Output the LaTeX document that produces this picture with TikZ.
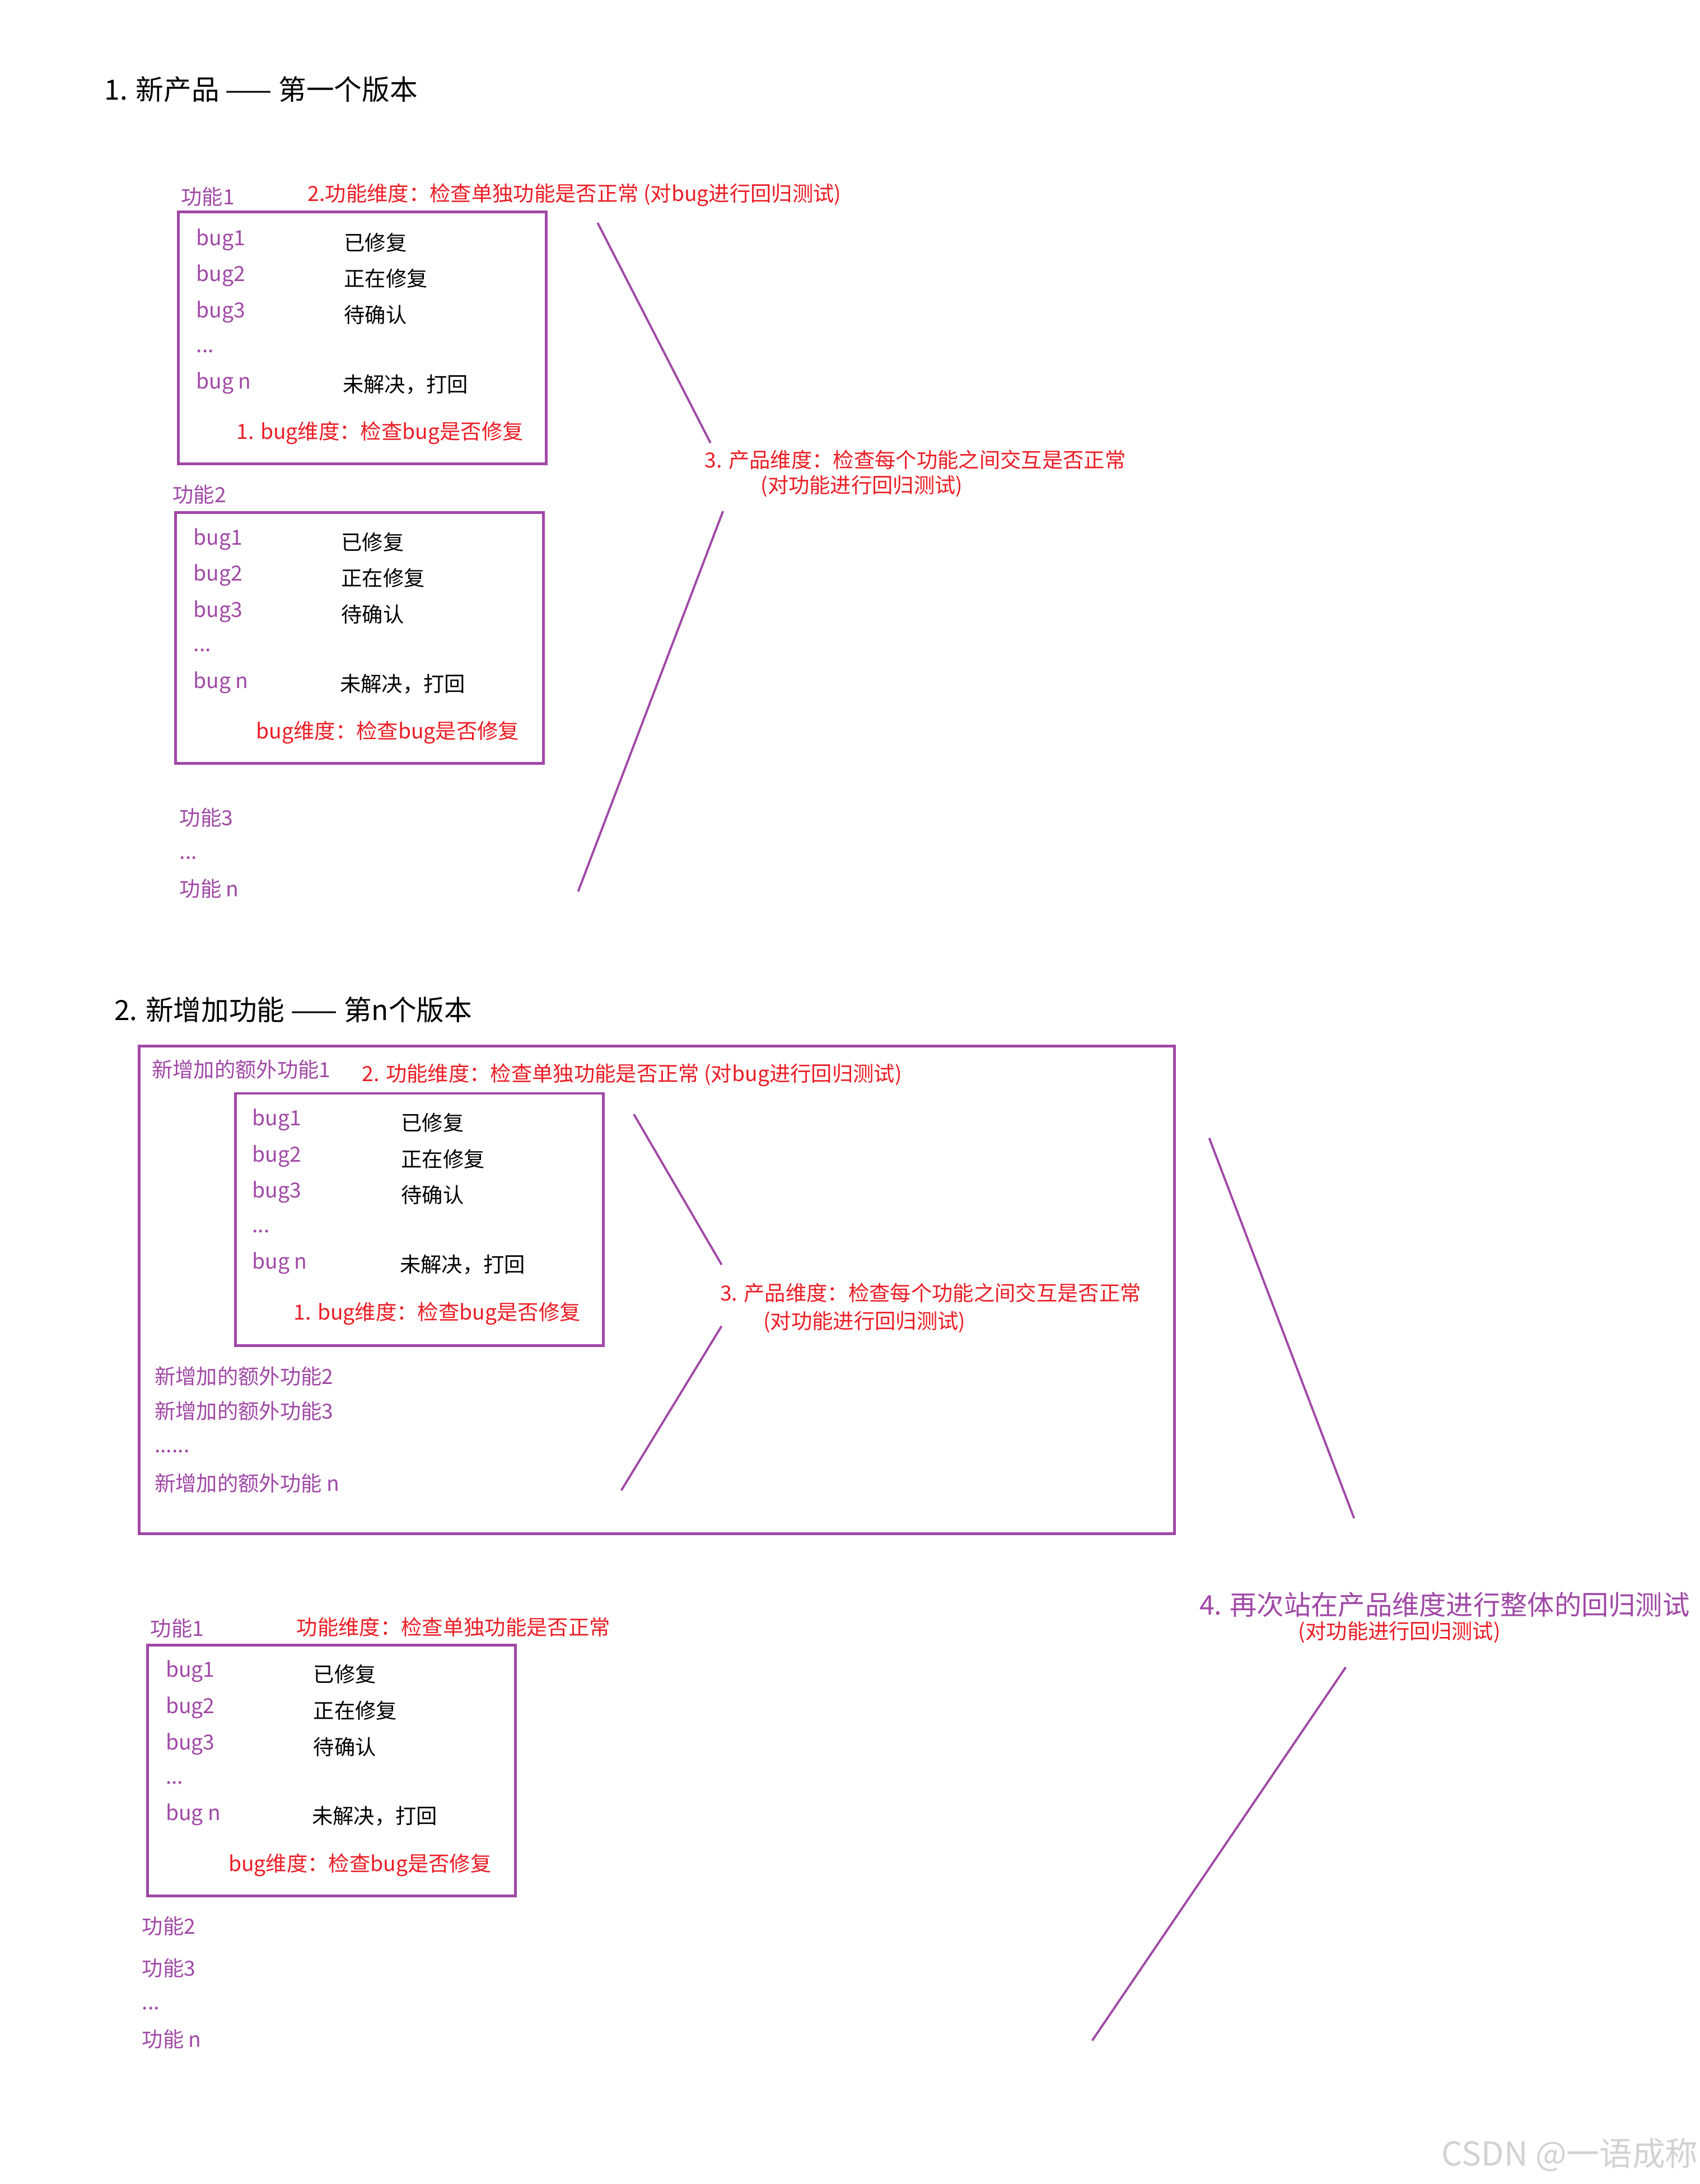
\documentclass[tikz,border=0pt]{standalone}
\usepackage{fontspec}
\setmainfont{Noto Sans CJK SC}
\definecolor{pur}{RGB}{160,72,166}
\definecolor{redt}{RGB}{236,28,36}
\definecolor{wmk}{RGB}{210,210,210}
\newcommand\mybugs[4]{%
  \node[pt] (#1b1) at (#2,#4) {bug1};
  \node[bt] (#1s1) at (#3,#4+2) {已修复};
  \node[pt] (#1b2) at (#2,#4+26) {bug2};
  \node[bt] (#1s2) at (#3,#4+28) {正在修复};
  \node[pt] (#1b3) at (#2,#4+52) {bug3};
  \node[bt] (#1s3) at (#3,#4+54) {待确认};
  \node[pt] (#1bd) at (#2,#4+80) {...};
  \node[pt] (#1bn) at (#2,#4+103) {bug n};
  \node[bt] (#1sn) at (#3-1,#4+104) {未解决，打回};
}
\begin{document}
\begin{tikzpicture}[x=0.025cm,y=-0.025cm,
  every node/.style={inner sep=0pt,outer sep=0pt,anchor=west},
  txt/.style={font=\fontsize{10.67}{12}\selectfont},
  pt/.style={txt,text=pur},
  rt/.style={txt,text=redt},
  bt/.style={txt,text=black},
  ttl/.style={font=\fontsize{14.2}{16}\selectfont,text=black},
  big/.style={font=\fontsize{13.8}{16}\selectfont,text=pur},
  box/.style={draw=pur,line width=1.4pt},
  conn/.style={draw=pur,line width=1.1pt}]
\useasboundingbox (0,0) rectangle (1220,1568);

% ---------- Section 1 ----------
\node[ttl] (t1) at (75,64) {1. 新产品 —— 第一个版本};
\node[pt] (f1) at (130,141) {功能1};
\node[rt] (d2a) at (221,140) {2.功能维度：检查单独功能是否正常 (对bug进行回归测试)};
\draw[box] (128,152) rectangle (392,333);
\mybugs{a}{141}{247}{172}
\node[rt] (d1a) at (170,311) {1. bug维度：检查bug是否修复};

\node[rt] (d3a) at (506,330) {3. 产品维度：检查每个功能之间交互是否正常};
\node[rt] (d3a2) at (546,349) {(对功能进行回归测试)};
\coordinate (l1s) at (429,160);
\coordinate (l1e) at (510,318);
\coordinate (l2s) at (519,367);
\coordinate (l2e) at (415,640);
\draw[conn] (l1s) -- (l1e);
\draw[conn] (l2s) -- (l2e);

\node[pt] (f2) at (124,355) {功能2};
\draw[box] (126,368) rectangle (390,548);
\mybugs{b}{139}{245}{387}
\node[rt] (d1b) at (184,526) {bug维度：检查bug是否修复};

\node[pt] (f3) at (129,587) {功能3};
\node[pt] (fd) at (129,616) {...};
\node[pt] (fn) at (129,638) {功能 n};

% ---------- Section 2 ----------
\node[ttl] (t2) at (82,725) {2. 新增加功能 —— 第n个版本};
\draw[box] (100,751) rectangle (843,1101);
\node[pt] (e1) at (109,768) {新增加的额外功能1};
\node[rt] (d2c) at (260,772) {2. 功能维度：检查单独功能是否正常 (对bug进行回归测试)};
\draw[box] (169,785) rectangle (433,966);
\mybugs{c}{181}{288}{804}
\node[rt] (d1c) at (211,943) {1. bug维度：检查bug是否修复};

\node[rt] (d3c) at (517,928) {3. 产品维度：检查每个功能之间交互是否正常};
\node[rt] (d3c2) at (548,949) {(对功能进行回归测试)};
\coordinate (l3s) at (455,800);
\coordinate (l3e) at (518,908);
\coordinate (l4s) at (518,952);
\coordinate (l4e) at (446,1070);
\draw[conn] (l3s) -- (l3e);
\draw[conn] (l4s) -- (l4e);

\node[pt] (e2) at (111,988) {新增加的额外功能2};
\node[pt] (e3) at (111,1013) {新增加的额外功能3};
\node[pt] (ed) at (111,1042) {......};
\node[pt] (en) at (111,1065) {新增加的额外功能 n};

\coordinate (l5s) at (868,817);
\coordinate (l5e) at (972,1090);
\draw[conn] (l5s) -- (l5e);
\node[big] (d4) at (861,1152) {4. 再次站在产品维度进行整体的回归测试};
\node[rt] (d42) at (932,1172) {(对功能进行回归测试)};
\coordinate (l6s) at (966,1197);
\coordinate (l6e) at (784,1465);
\draw[conn] (l6s) -- (l6e);

% ---------- Section 3 ----------
\node[pt] (g1) at (108,1169) {功能1};
\node[rt] (d2d) at (213,1168) {功能维度：检查单独功能是否正常};
\draw[box] (106,1181) rectangle (370,1361);
\mybugs{d}{119}{225}{1200}
\node[rt] (d1d) at (164,1339) {bug维度：检查bug是否修复};

\node[pt] (g2) at (102,1383) {功能2};
\node[pt] (g3) at (102,1413) {功能3};
\node[pt] (gd) at (102,1442) {...};
\node[pt] (gn) at (102,1464) {功能 n};

\node[font=\fontsize{16.8}{19}\selectfont,text=wmk] (wm) at (1035,1547) {CSDN @一语成称};
\end{tikzpicture}
\end{document}
